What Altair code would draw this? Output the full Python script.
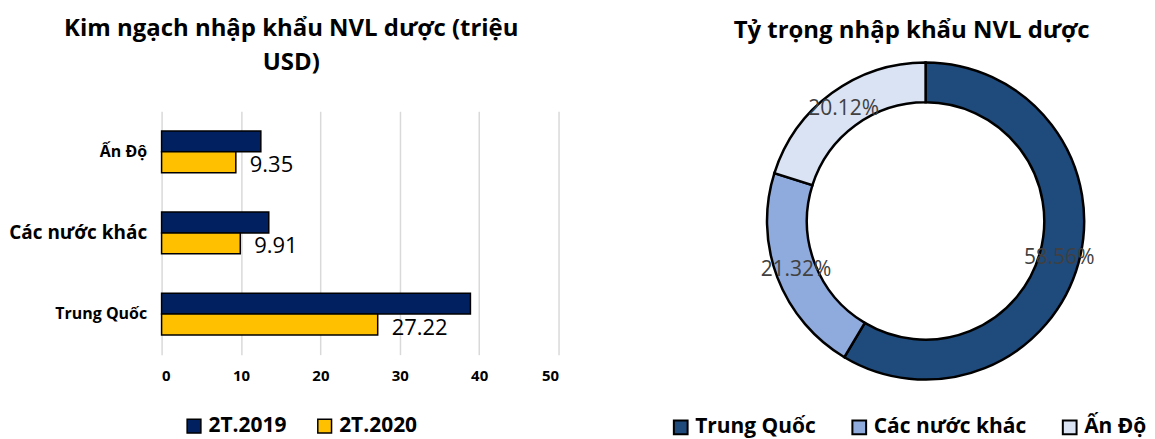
import altair as alt
import pandas as pd

FONT = "Open Sans"

# ---- data ----
categories = ["Ấn Độ", "Các nước khác", "Trung Quốc"]
series = ["2T.2019", "2T.2020"]
v2019 = [12.5, 13.5, 38.9]
v2020 = [9.35, 9.91, 27.22]

share_names = ["Trung Quốc", "Các nước khác", "Ấn Độ"]
share_values = [58.56, 21.32, 20.12]

bar_colors = ["#002060", "#FFC000"]
pie_colors = ["#1F4A7C", "#8FAADC", "#DAE3F3"]

bar_df = pd.DataFrame({
    "country": categories * 2,
    "period": [series[0]] * 3 + [series[1]] * 3,
    "value": v2019 + v2020,
})
lab_df = bar_df[bar_df["period"] == series[1]]

pie_df = pd.DataFrame({
    "name": share_names,
    "share": share_values,
    "ord": list(range(len(share_names))),
    "label": [f"{v:.2f}%" for v in share_values],
})

# ---- bar chart ----
y = alt.Y("country:N", sort=categories, title=None,
          scale=alt.Scale(paddingInner=0.485, paddingOuter=0.2425),
          axis=alt.Axis(domain=False, ticks=False,
                        labelFontSize={"condition": {"test": "datum.value == 'Các nước khác'", "value": 19}, "value": 16},
                        labelFontWeight="bold", labelColor="black",
                        labelPadding=15, labelFont=FONT))
x = alt.X("value:Q", title=None, scale=alt.Scale(domain=[0, 50]),
          axis=alt.Axis(values=[0, 10, 20, 30, 40, 50], domain=False, ticks=False,
                        grid=True, gridColor="#d9d9d9", gridWidth=1.5,
                        labelFontSize=15, labelFontWeight="bold", labelColor="black",
                        labelPadding=14, labelFont=FONT))
yoff = alt.YOffset("period:N", scale=alt.Scale(domain=series))

bars = alt.Chart(bar_df).mark_bar(stroke="black", strokeWidth=1.5).encode(
    x=x, y=y, yOffset=yoff,
    color=alt.Color("period:N", scale=alt.Scale(domain=series, range=bar_colors),
                    legend=alt.Legend(title=None, orient="none", legendX=22, legendY=305,
                                      direction="horizontal", symbolType="square",
                                      symbolSize=190, symbolStrokeColor="black",
                                      symbolStrokeWidth=1.5, symbolOpacity=1,
                                      labelFontSize=21, labelFontWeight="bold",
                                      labelColor="black", labelFont=FONT,
                                      labelLimit=300, columnPadding=27)),
)
labels = alt.Chart(lab_df).mark_text(align="left", baseline="middle", dx=14, dy=3,
                                     fontSize=22, font=FONT, color="black").encode(
    x=x, y=y, yOffset=yoff, text=alt.Text("value:Q", format=".2f"))

left = alt.layer(bars, labels).properties(
    width=398, height=244,
    title=alt.TitleParams(["Kim ngạch nhập khẩu NVL dược (triệu", "USD)"],
                          fontSize=24, fontWeight="bold", font=FONT, color="black",
                          lineHeight=34, anchor="middle", dx=-69, offset=36),
)

# ---- donut chart ----
base = alt.Chart(pie_df).encode(
    theta=alt.Theta("share:Q", stack=True),
    order=alt.Order("ord:Q"),
)
arcs = base.mark_arc(innerRadius=119, outerRadius=159, stroke="black", strokeWidth=2.5).encode(
    color=alt.Color("name:N", sort=share_names,
                    scale=alt.Scale(domain=share_names, range=pie_colors),
                    legend=alt.Legend(title=None, orient="none", legendX=-86, legendY=306,
                                      direction="horizontal", symbolType="square",
                                      symbolSize=190, symbolStrokeColor="black",
                                      symbolStrokeWidth=2, symbolOpacity=1,
                                      labelFontSize=21, labelFontWeight="bold",
                                      labelColor="black", labelFont=FONT,
                                      labelLimit=300, columnPadding=32)),
)
texts = base.mark_text(radius=139, fontSize=21, font=FONT, color="#404040").encode(
    text="label:N")

right = alt.layer(arcs, texts).properties(
    width=340, height=220,
    title=alt.TitleParams("Tỷ trọng nhập khẩu NVL dược", fontSize=24, fontWeight="bold",
                          font=FONT, color="black", anchor="middle", dx=-14, offset=14),
)

chart = alt.hconcat(left, right, spacing=198, bounds="flush").resolve_scale(
    color="independent").configure_view(stroke=None).properties(
    padding={"left": 0, "top": 9, "right": 0, "bottom": 0})

chart.save("out.html", embed_options={"renderer": "svg", "actions": False})
